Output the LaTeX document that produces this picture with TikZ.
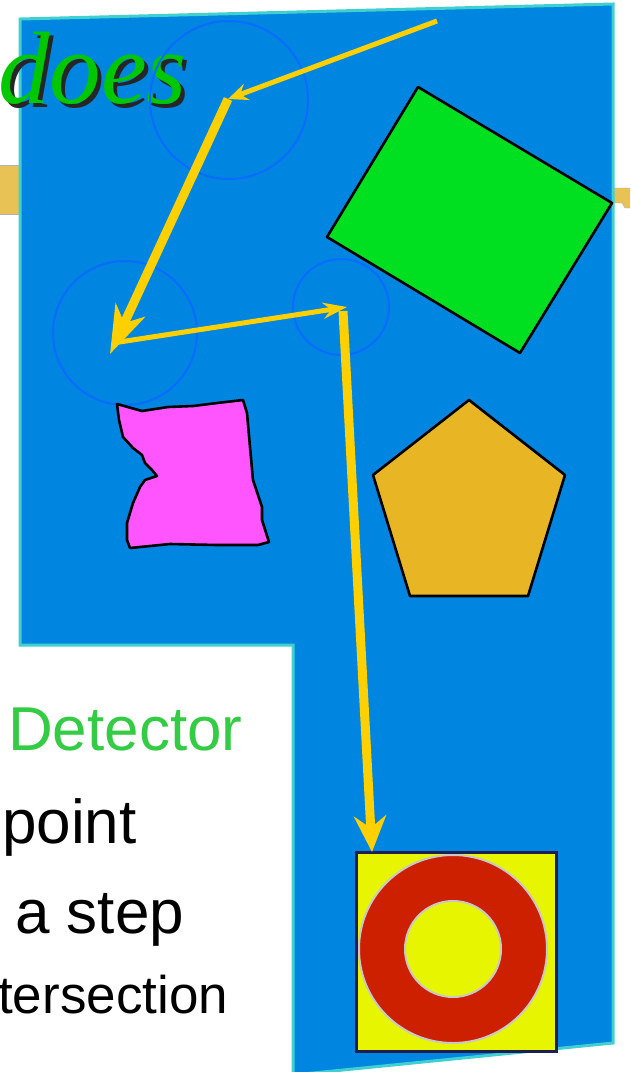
\documentclass[tikz,border=0pt]{standalone}
\usepackage{fontspec}
\setmainfont{Liberation Sans}
\newfontfamily\doesfont{Liberation Serif}
\usepackage{tikz}
\usetikzlibrary{arrows.meta}

\definecolor{bgblue}{RGB}{0,134,224}
\definecolor{edgecyan}{RGB}{64,208,208}
\definecolor{ringblue}{RGB}{10,108,255}
\definecolor{raygold}{RGB}{255,208,0}
\definecolor{bargold}{RGB}{232,194,84}
\definecolor{rectgreen}{RGB}{0,224,32}
\definecolor{pentgold}{RGB}{232,182,36}
\definecolor{blobpink}{RGB}{255,85,255}
\definecolor{boxyellow}{RGB}{232,245,0}
\definecolor{ringred}{RGB}{204,32,0}
\definecolor{ringgray}{RGB}{200,200,200}
\definecolor{boxnavy}{RGB}{30,30,80}
\definecolor{detgreen}{RGB}{51,204,68}
\definecolor{doesgreen}{RGB}{0,200,0}

\begin{document}
\begin{tikzpicture}[x=1pt, y=-1pt,
  probe/.style={circle, draw=ringblue, line width=2pt, inner sep=0pt},
  outlined/.style={draw=black, line width=2.6pt, line join=round},
  ray/.style={draw=raygold, line cap=butt},
  label/.style={anchor=base west, inner sep=0pt, font=\fontsize{62}{62}\selectfont}]
  \clip (0,0) rectangle (630,1072);
  % gold bar behind the panel
  \fill[bargold, draw=gray!60] (-2,165) rectangle (22,214);
  \fill[bargold, draw=gray!60] (610,188) -- (632,188) -- (632,208) -- (625,208) -- (622,203) -- (615,203) -- cycle;
  % the panel
  \draw[fill=bgblue, draw=edgecyan, line width=3pt]
    (20,19) -- (613,4) -- (613,1043) -- (293,1075) -- (293,645) -- (20,645) -- cycle;
  % title word, shadow set under it
  \node[anchor=base west, inner sep=0pt, doesgreen] (does) at (-2,103)
    {\doesfont\itshape\fontsize{103}{103}\selectfont
     \rlap{\hspace{4pt}\raisebox{-4pt}{\color{black!85}does}}does};
  % probing circles
  \node[probe, minimum size=158pt] (c1) at (229,100) {};
  \node[probe, minimum size=144pt] (c2) at (125,333) {};
  \node[probe, minimum size=96pt] (c3) at (341,307) {};
  % objects
  \draw[outlined, fill=rectgreen] (418,87) -- (612,203) -- (520,353) -- (327,237) -- cycle;
  \draw[outlined, fill=pentgold] (469,400) -- (565,475) -- (528,596) -- (410,596) -- (373,475) -- cycle;
  \draw[outlined, fill=blobpink] (117,404) -- (142,411) -- (168,407) -- (193,406) -- (217,403)
    -- (243,400) -- (247,413) -- (250,447) -- (253,480) -- (262,507) -- (262,520)
    -- (269,542) -- (258,545) -- (217,545) -- (170,544) -- (130,548) -- (127,540)
    -- (127,523) -- (133,503) -- (140,487) -- (145,480) -- (157,476) -- (152,470)
    -- (145,463) -- (142,455) -- (133,448) -- (123,437) -- (119,420) -- cycle;
  \node[draw=boxnavy, line width=3pt, fill=boxyellow, minimum width=200pt,
    minimum height=199pt, inner sep=0pt] (goal) at (456,951.5) {};
  \fill[ringred, draw=ringgray, line width=2pt] (453,949) circle [radius=94];
  \fill[boxyellow, draw=ringgray, line width=2pt] (453,949) circle [radius=48];
  % marching rays
  \coordinate (p0) at (437,21);
  \coordinate (p1) at (228,99);
  \coordinate (p2) at (110,354);
  \coordinate (p3) at (347,307);
  \coordinate (p4) at (372,852);
  \draw[ray, line width=5pt, -{Stealth[length=20pt, width=17pt, inset=7pt]}] (p0) -- (p1);
  \draw[ray, line width=9pt, -{Stealth[length=48pt, width=32pt, inset=14pt]}] (p1) -- (p2);
  \draw[ray, line width=5pt, -{Stealth[length=24pt, width=16pt, inset=8pt]}] (113,343) -- (p3);
  \draw[ray, line width=9pt, -{Stealth[length=36pt, width=32pt, inset=12pt]}] (343,311) -- (p4);
  % text
  \node[label, detgreen] (det) at (8,750) {Detector};
  \node[label] (pt) at (2,843) {point};
  \node[label] (st) at (15,933) {a step};
  \node[label, font=\fontsize{53}{53}\selectfont] (isect) at (-2,1013) {tersection};
\end{tikzpicture}
\end{document}
